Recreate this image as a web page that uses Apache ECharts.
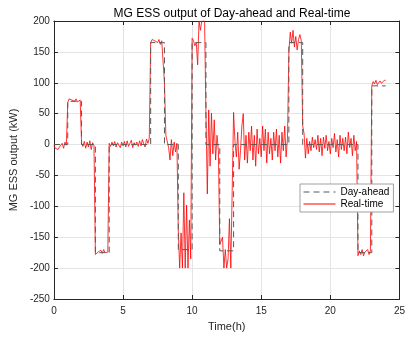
<!DOCTYPE html>
<html>
<head>
<meta charset="utf-8">
<script src="https://cdn.jsdelivr.net/npm/echarts@6/dist/echarts.min.js"></script>
<style>
html,body{margin:0;padding:0;background:#fff;}
#c{width:408px;height:339px;}
</style>
</head>
<body>
<div id="c"></div>
<script>
// Day-ahead schedule, one value per hour (0h..23h)
var dayAheadHourly = [0, 70, 0, -175, 0, 0, 0, 165, 0, -170, 165, 0, -172, 0, 0, 0, 0, 165, 0, 0, 0, 0, -175, 95];

// Real-time output, sampled every 0.1 h (rows = hours 0..23), plus final value at 24 h
var realTime = [
  [-2, -6, -3, -8, -4, -7, 2, -6, 4, -1],            // 0
  [68, 74, 76, 72, 73, 70, 74, 69, 71, 72],          // 1
  [2, -3, 5, -6, 4, -4, 6, -8, 3, -2],               // 2
  [-178, -180, -174, -177, -171, -176, -170, -175, -172, -174], // 3
  [2, -3, 4, -2, 5, -4, 3, 1, -5, 4],                // 4
  [-2, 5, -4, 6, -3, 2, 7, -5, 3, -1],               // 5
  [4, -3, 6, -2, 8, 1, -4, 9, 2, 10],                // 6
  [165, 170, 173, 168, 171, 165, 170, 162, 168, 166],// 7
  [100, 15, 12, -5, -25, 8, -18, 4, -12, 2],         // 8
  [-140, -200, -143, -200, -78, -200, -98, -200, -122, -185], // 9
  [172, 168, 160, 165, 129, 200, 185, 200, 200, 200],// 10
  [50, -80, 56, -35, 51, -15, 40, -25, 15, -10],     // 11
  [-162, -165, -150, -200, -170, -200, -185, -120, -200, -200], // 12
  [52, 5, -20, 20, -40, -10, 30, 50, -25, 15],       // 13
  [-30, 20, -10, 30, -25, 15, -35, 25, -15, 10],     // 14
  [-20, 30, -10, 25, -30, 20, -15, 10, -25, 20],     // 15
  [-10, 25, -20, 15, -30, 20, -10, 30, -20, 10],     // 16
  [150, 182, 164, 185, 158, 175, 153, 170, 178, 168],// 17
  [30, 18, -22, 10, -15, 5, -10, 12, -5, 8],         // 18
  [-8, 15, -12, 10, -18, 12, -6, 15, -10, 5],        // 19
  [-15, 10, -5, 18, -12, 8, -20, 15, -8, 10],        // 20
  [-10, 12, -15, 20, -5, 10, -18, 15, -10, 5],       // 21
  [-180, -172, -178, -170, -180, -174, -176, -170, -178, -172], // 22
  [95, 102, 98, 104, 97, 100, 103, 99, 102, 104]     // 23
];
var realTimeEnd = 104;
var sampleStep = 0.1;

var xTicks = {min: 0, max: 25, interval: 5};
var yTicks = {min: -250, max: 200, interval: 50};

// build series data
var daData = [];
dayAheadHourly.forEach(function (v, h) { daData.push([h, v]); daData.push([h + 1, v]); });
var rtData = [];
realTime.forEach(function (row, h) {
  row.forEach(function (v, k) { rtData.push([+(h + k * sampleStep).toFixed(2), v]); });
});
rtData.push([24, realTimeEnd]);

var font = 'Liberation Sans, Arial, Helvetica, sans-serif';
var chart = echarts.init(document.getElementById('c'), null, {renderer: 'canvas'});
var axisLineStyle = {color: '#262626', width: 1};
chart.setOption({
  animation: false,
  backgroundColor: '#fff',
  title: {
    text: 'MG ESS output of Day-ahead and Real-time',
    left: 227, top: 3, textAlign: 'center',
    textStyle: {fontFamily: font, fontSize: 12, fontWeight: 'normal', color: '#000'}
  },
  legend: {
    orient: 'vertical', left: 300, top: 184,
    padding: [3, 4, 3, 3], itemGap: 2, itemWidth: 32, itemHeight: 12,
    backgroundColor: '#fff', borderColor: '#a0a0a0', borderWidth: 1, borderRadius: 0,
    itemStyle: {opacity: 0},
    lineStyle: {width: 1},
    textStyle: {fontFamily: font, fontSize: 10, color: '#000'},
    data: ['Day-ahead', 'Real-time']
  },
  grid: {left: 52, right: 5, top: 21, bottom: 40},
  xAxis: [{
    type: 'value', min: xTicks.min, max: xTicks.max, interval: xTicks.interval,
    name: 'Time(h)', nameLocation: 'middle', nameGap: 22,
    nameTextStyle: {fontFamily: font, fontSize: 11, color: '#262626'},
    axisLine: {show: true, onZero: false, lineStyle: axisLineStyle},
    axisTick: {show: true, inside: true, length: 4, lineStyle: axisLineStyle},
    axisLabel: {fontFamily: font, fontSize: 10, color: '#262626', margin: 7},
    splitLine: {show: true, lineStyle: {color: '#e4e4e4', width: 1}}
  }, {
    type: 'value', position: 'top', min: xTicks.min, max: xTicks.max, interval: xTicks.interval,
    axisLine: {show: true, onZero: false, lineStyle: axisLineStyle},
    axisTick: {show: true, inside: true, length: 4, lineStyle: axisLineStyle},
    axisLabel: {show: false}, splitLine: {show: false}
  }],
  yAxis: [{
    type: 'value', min: yTicks.min, max: yTicks.max, interval: yTicks.interval,
    name: 'MG ESS output (kW)', nameLocation: 'middle', nameGap: 32,
    nameTextStyle: {fontFamily: font, fontSize: 11, color: '#262626'},
    axisLine: {show: true, onZero: false, lineStyle: axisLineStyle},
    axisTick: {show: true, inside: true, length: 4, lineStyle: axisLineStyle},
    axisLabel: {fontFamily: font, fontSize: 10, color: '#262626', margin: 4},
    splitLine: {show: true, lineStyle: {color: '#e4e4e4', width: 1}}
  }, {
    type: 'value', position: 'right', min: yTicks.min, max: yTicks.max, interval: yTicks.interval,
    axisLine: {show: true, onZero: false, lineStyle: axisLineStyle},
    axisTick: {show: true, inside: true, length: 4, lineStyle: axisLineStyle},
    axisLabel: {show: false}, splitLine: {show: false}
  }],
  series: [{
    name: 'Day-ahead', type: 'line', data: daData, symbol: 'none', clip: true,
    lineStyle: {color: '#595959', width: 1, type: [6, 4]}, itemStyle: {color: '#595959'}, z: 3
  }, {
    name: 'Real-time', type: 'line', data: rtData, symbol: 'none', clip: true,
    lineStyle: {color: '#ff0000', width: 0.8}, itemStyle: {color: '#ff0000'}, z: 2
  }]
});
</script>
</body>
</html>
